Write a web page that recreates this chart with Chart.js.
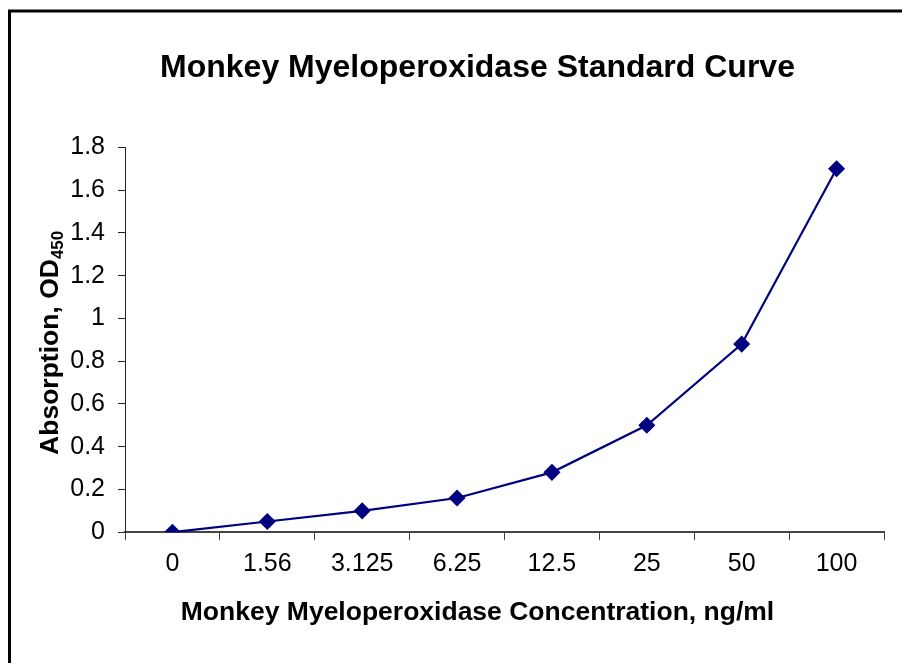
<!DOCTYPE html>
<html>
<head>
<meta charset="utf-8">
<script src="https://cdn.jsdelivr.net/npm/chart.js@4"></script>
<style>
  body { margin: 0; background: #fff; }
  #chart-grafico { display: block; }
</style>
</head>
<body>
<canvas id="chart-grafico" width="902" height="663"></canvas>
<script>
const concentraciones = ['0', '1.56', '3.125', '6.25', '12.5', '25', '50', '100'];
const absorcion = [0, 0.05, 0.1, 0.16, 0.28, 0.5, 0.88, 1.7];
const yMin = 0;
const yMax = 1.8;
const yPaso = 0.2;

// marco negro y titulo del eje y con subindice
const marcoYTitulo = {
    id: 'marcoYTitulo',
    afterDraw(chart) {
        const c = chart.ctx;
        const area = chart.chartArea;
        c.save();
        c.strokeStyle = '#000';
        c.lineWidth = 3;
        c.beginPath();
        c.moveTo(9.5, 663);
        c.lineTo(9.5, 11);
        c.lineTo(902, 11);
        c.stroke();

        const main = 'Absorption, OD';
        const sub = '450';
        c.fillStyle = '#000';
        c.textBaseline = 'alphabetic';
        c.font = 'bold 26.5px Arial, "Liberation Sans"';
        const w1 = c.measureText(main).width;
        c.font = 'bold 17px Arial, "Liberation Sans"';
        const w2 = c.measureText(sub).width;
        c.translate(58, (area.top + area.bottom) / 2 + 3);
        c.rotate(-Math.PI / 2);
        const x0 = -(w1 + w2) / 2;
        c.font = 'bold 26.5px Arial, "Liberation Sans"';
        c.fillText(main, x0, 0);
        c.font = 'bold 17px Arial, "Liberation Sans"';
        c.fillText(sub, x0 + w1, 5);
        c.restore();
    }
};

const ctx = document.getElementById('chart-grafico');
new Chart(ctx, {
    type: 'line',
    data: {
        labels: concentraciones,
        datasets: [
            {
                label: 'OD450',
                data: absorcion,
                borderColor: '#000080',
                backgroundColor: '#000080',
                borderWidth: 2.2,
                pointStyle: 'rectRot',
                pointRadius: 7,
                pointHoverRadius: 7,
                tension: 0
            }
        ]
    },
    options: {
        responsive: false,
        animation: false,
        events: [],
        layout: { padding: { left: 71, right: 18, top: 0, bottom: 0 } },
        scales: {
            x: {
                offset: true,
                grid: { offset: true, drawOnChartArea: false, drawTicks: true, tickLength: 8, color: '#444' },
                border: { color: '#444', width: 2 },
                ticks: { color: '#000', padding: 9, font: { family: 'Arial, "Liberation Sans"', size: 25 }, maxRotation: 0 },
                afterFit: (scale) => { scale.height = 50; }
            },
            y: {
                min: yMin,
                max: yMax,
                grid: { drawOnChartArea: false, drawTicks: true, tickLength: 7, color: '#222' },
                border: { color: '#222', width: 1 },
                ticks: {
                    stepSize: yPaso,
                    color: '#000',
                    padding: 13,
                    font: { family: 'Arial, "Liberation Sans"', size: 25 },
                    callback: (v) => String(Number(v.toFixed(1)))
                },
                afterFit: (scale) => { scale.width = 54; }
            }
        },
        plugins: {
            legend: { display: false },
            tooltip: { enabled: false },
            title: {
                display: true,
                text: 'Monkey Myeloperoxidase Standard Curve',
                color: '#000',
                font: { family: 'Arial, "Liberation Sans"', size: 32, weight: 'bold' },
                padding: { top: 49, bottom: 60 }
            },
            subtitle: {
                display: true,
                position: 'bottom',
                text: 'Monkey Myeloperoxidase Concentration, ng/ml',
                color: '#000',
                font: { family: 'Arial, "Liberation Sans"', size: 26.5, weight: 'bold' },
                padding: { top: 15, bottom: 34 }
            }
        }
    },
    plugins: [marcoYTitulo]
});
</script>
</body>
</html>
